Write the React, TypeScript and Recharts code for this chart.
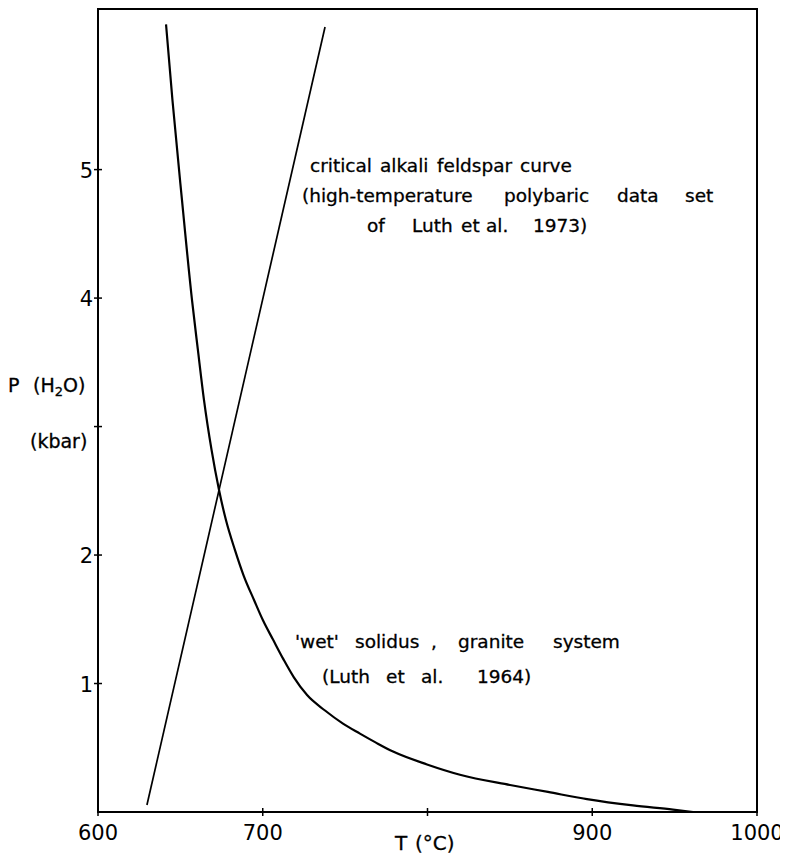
import React from "react";
import { LineChart, Line, XAxis, YAxis, ReferenceArea, Customized } from "recharts";

// 'wet' solidus, granite system (Luth et al. 1964): T (°C), P (kbar)
const solidusT = [641.3, 645.2, 651.0, 657.1, 660.6, 664.3, 668.9, 673.4, 677.7, 683.1, 688.4, 694.7, 700.2, 706.3, 712.5, 718.8, 726.9, 737.8, 748.7, 759.0, 768.7, 779.1, 799.7, 819.7, 850.1, 873.1, 896.8, 924.7, 949.0, 961.2];
const solidusP = [6.13, 5.54, 4.76, 3.98, 3.6, 3.21, 2.82, 2.51, 2.27, 2.04, 1.84, 1.65, 1.49, 1.34, 1.19, 1.05, 0.91, 0.79, 0.688, 0.61, 0.54, 0.47, 0.37, 0.29, 0.21, 0.156, 0.1, 0.051, 0.019, 0.0];

// critical alkali feldspar curve (Luth et al. 1973)
const criticalT = [629.7, 737.8];
const criticalP = [0.054, 6.11];

const xTicks = [600, 700, 800, 900, 1000];
const xTickLabels = ["600", "700", "", "900", "1000"];
const yTicks = [1, 2, 3, 4, 5];
const yTickLabels = ["1", "2", "", "4", "5"];

const solidusData = solidusT.map((t, i) => ({ t, p: solidusP[i] }));
const criticalData = criticalT.map((t, i) => ({ t, p: criticalP[i] }));

const FONT = "DejaVu Sans";

const XTick = (props: any) => {
  const { x, y, payload } = props;
  const idx = xTicks.indexOf(payload.value);
  const label = idx >= 0 ? xTickLabels[idx] : "";
  return (
    <g>
      <line x1={x} x2={x} y1={y - 4} y2={y + 4} stroke="#000" strokeWidth={1.5} />
      {label && (
        <text x={x} y={y + 28} textAnchor="middle" fontFamily={FONT} fontSize={21} fill="#000">
          {label}
        </text>
      )}
    </g>
  );
};

const YTick = (props: any) => {
  const { x, y, payload } = props;
  const idx = yTicks.indexOf(payload.value);
  const label = idx >= 0 ? yTickLabels[idx] : "";
  return (
    <g>
      <line x1={x - 4} x2={x + 4} y1={y} y2={y} stroke="#000" strokeWidth={1.5} />
      {label && (
        <text x={x - 5} y={y + 8} textAnchor="end" fontFamily={FONT} fontSize={21} fill="#000">
          {label}
        </text>
      )}
    </g>
  );
};

// words placed individually (SVG coords = page coords - 8)
const Words = ({ y, items }: { y: number; items: [number, string][] }) => (
  <text y={y}>
    {items.map(([x, w], i) => (
      <tspan key={i} x={x - 8}>{w}</tspan>
    ))}
  </text>
);

const Annotations = () => (
  <g fontFamily={FONT} fontSize={18.5} fill="#000" stroke="#000" strokeWidth={0.3}>
    <Words y={164} items={[[310, "critical"], [380, "alkali"], [437, "feldspar"], [520, "curve"]]} />
    <Words y={194} items={[[302, "(high-temperature"], [504, "polybaric"], [617, "data"], [685, "set"]]} />
    <Words y={224} items={[[367, "of"], [412, "Luth"], [461, "et"], [486, "al."], [533, "1973)"]]} />
    <Words y={640} items={[[295, "'wet'"], [355, "solidus"], [431, ","], [458, "granite"], [553, "system"]]} />
    <Words y={675} items={[[322, "(Luth"], [386, "et"], [421, "al."], [477, "1964)"]]} />
    <text y={384} fontSize={19}>
      <tspan x={0}>P</tspan>
      <tspan x={25}>(H</tspan>
      <tspan fontSize={13} dy={4}>2</tspan>
      <tspan dy={-4}>O)</tspan>
    </text>
    <text x={22} y={440} fontSize={19}>(kbar)</text>
    <text y={842} fontSize={20}>
      <tspan x={387}>T</tspan>
      <tspan x={407}>(°C)</tspan>
    </text>
  </g>
);

export default function App() {
  return (
    <LineChart width={780} height={846} margin={{ top: 1, right: 31, bottom: 2, left: 0 }}>
      <XAxis
        dataKey="t"
        type="number"
        domain={[600, 1000]}
        ticks={xTicks}
        allowDataOverflow
        axisLine={false}
        tickLine={false}
        tickSize={0}
        tickMargin={0}
        tick={<XTick />}
        height={40}
        interval={0}
      />
      <YAxis
        dataKey="p"
        type="number"
        domain={[0, 6.25]}
        ticks={yTicks}
        allowDataOverflow
        axisLine={false}
        tickLine={false}
        tickSize={0}
        tickMargin={0}
        tick={<YTick />}
        width={90}
        interval={0}
      />
      <ReferenceArea x1={600} x2={1000} y1={0} y2={6.25} fill="none" fillOpacity={0} stroke="#000" strokeWidth={2} ifOverflow="visible" />
      <Line data={criticalData} dataKey="p" type="linear" stroke="#000" strokeWidth={1.7} dot={false} isAnimationActive={false} />
      <Line data={solidusData} dataKey="p" type="monotone" stroke="#000" strokeWidth={2.2} strokeLinejoin="round" dot={false} isAnimationActive={false} />
      <Customized component={Annotations} />
    </LineChart>
  );
}
